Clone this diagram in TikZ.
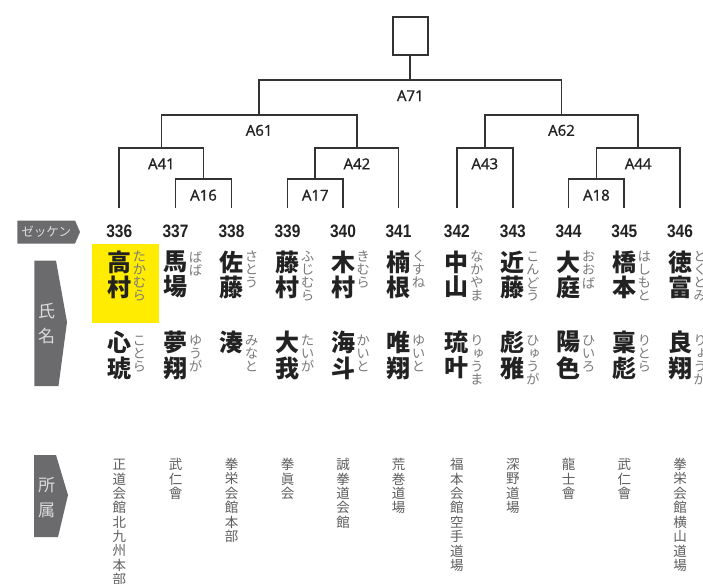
\documentclass[tikz,border=0pt]{standalone}
\usepackage{fontspec}
\newfontfamily\jpfont{Noto Sans CJK JP}
\newfontfamily\rubyfont{Noto Sans CJK JP}[RawFeature=+vert]
\newfontfamily\numfont{Liberation Sans}[FakeStretch=0.86]
\newfontfamily\labfont{Open Sans}[FakeBold=1.3]
\definecolor{tabgray}{HTML}{6B6B6E}
\definecolor{tabtext}{HTML}{DCDCDC}
\definecolor{hiyellow}{HTML}{FFEC00}
\definecolor{inkdark}{HTML}{222222}
\definecolor{rubygray}{HTML}{7A7A7A}
\definecolor{clubgray}{HTML}{5E5E5E}
\definecolor{linegray}{HTML}{333333}
\newcommand\vstk[6]{\foreach \ch [count=\k from 0] in #6 {\node[#4] (#5-\k) at (#1,{#2+\k*#3}) {\ch};}}
\begin{document}
\begin{tikzpicture}[x=1pt,y=-1pt,
  br/.style={draw=linegray,line width=1.8pt},
  jname/.style={font=\jpfont\bfseries\fontsize{24}{24}\selectfont,text=inkdark,inner sep=0},
  ruby/.style={font=\rubyfont\fontsize{13.5}{13.5}\selectfont,text=rubygray,inner sep=0},
  club/.style={font=\jpfont\fontsize{13.5}{13.5}\selectfont,text=clubgray,inner sep=0},
  num/.style={font=\numfont\bfseries\fontsize{18}{18}\selectfont,text=inkdark,inner sep=0},
  blab/.style={font=\labfont\fontsize{15}{15}\selectfont,text=inkdark,inner sep=0},
  tabshape/.style={fill=tabgray,draw=none},
  tabtxt/.style={font=\jpfont\fontsize{17}{17}\selectfont,text=tabtext,inner sep=0},
  tabsmall/.style={font=\jpfont\fontsize{12.5}{12.5}\selectfont,text=tabtext,inner sep=0}]
\useasboundingbox[fill=white] (0,0) rectangle (703,583);

% highlight
\fill[hiyellow] (91.7,244) rectangle (159.3,323.3);

% tabs
\fill[tabshape] (17.3,220.5) -- (75,220.5) -- (80,232) -- (75,243.5) -- (17.3,243.5) -- cycle;
\node[tabsmall] (tzk) at (46.3,232) {ゼッケン};
\fill[tabshape] (34.3,260.7) -- (56,260.7) -- (67,322) -- (58.5,386) -- (34.3,386) -- cycle;
\node[tabtxt] (tsh) at (46.5,311) {氏};
\node[tabtxt] (tmei) at (46.5,336) {名};
\fill[tabshape] (34,455) -- (56,455) -- (68,495) -- (58,537) -- (34,537) -- cycle;
\node[tabtxt] (tsho) at (46.5,485) {所};
\node[tabtxt] (tzoku) at (46.5,510) {属};

% columns
\foreach \x/\n/\sa/\sr/\ga/\gr/\cl in {
 119.3/336/{高,村}/{た,か,む,ら}/{心,琥}/{こ,と,ら}/{正,道,会,館,北,九,州,本,部},
 175.5/337/{馬,場}/{ば,ば}/{夢,翔}/{ゆ,う,が}/{武,仁,會},
 231.5/338/{佐,藤}/{さ,と,う}/{湊}/{み,な,と}/{拳,栄,会,館,本,部},
 287.5/339/{藤,村}/{ふ,じ,む,ら}/{大,我}/{た,い,が}/{拳,眞,会},
 343/340/{木,村}/{き,む,ら}/{海,斗}/{か,い,と}/{誠,拳,道,会,館},
 398.5/341/{楠,根}/{く,す,ね}/{唯,翔}/{ゆ,い,と}/{荒,巻,道,場},
 456.8/342/{中,山}/{な,か,や,ま}/{琉,叶}/{り,ゅ,う,ま}/{福,本,会,館,空,手,道,場},
 512.8/343/{近,藤}/{こ,ん,ど,う}/{彪,雅}/{ひ,ゅ,う,が}/{深,野,道,場},
 568.5/344/{大,庭}/{お,お,ば}/{陽,色}/{ひ,い,ろ}/{龍,士,會},
 624.3/345/{橋,本}/{は,し,も,と}/{稟,彪}/{り,と,ら}/{武,仁,會},
 680/346/{徳,富}/{と,く,と,み}/{良,翔}/{り,ょ,う,が}/{拳,栄,会,館,横,山,道,場}}{
  \coordinate (b\n) at (\x,208);
  \node[num] (n\n) at (\x,231.7) {\n};
  \vstk{\x}{262}{25}{jname}{sn\n}{\sa}
  \vstk{\x+20}{256.8}{13}{ruby}{sr\n}{\sr}
  \vstk{\x}{342}{26}{jname}{gn\n}{\ga}
  \vstk{\x+20}{340.5}{13}{ruby}{gr\n}{\gr}
  \vstk{\x}{464.5}{14.4}{club}{cl\n}{\cl}
}

% bracket junctions
\coordinate (m16) at (203.5,179.3);
\coordinate (m41) at (161.4,148);
\coordinate (m17) at (315.25,179.3);
\coordinate (m42) at (356.9,148);
\coordinate (m61) at (259.15,115);
\coordinate (m43) at (484.8,148);
\coordinate (m18) at (596.4,179.3);
\coordinate (m44) at (638.2,148);
\coordinate (m62) at (561.5,115);
\coordinate (m71) at (410.3,80);

\draw[br] (b337) |- (m16) -| (b338);
\draw[br] (b336) |- (m41) -| (m16);
\draw[br] (b339) |- (m17) -| (b340);
\draw[br] (m17) |- (m42) -| (b341);
\draw[br] (m41) |- (m61) -| (m42);
\draw[br] (b342) |- (m43) -| (b343);
\draw[br] (b344) |- (m18) -| (b345);
\draw[br] (m18) |- (m44) -| (b346);
\draw[br] (m43) |- (m62) -| (m44);
\draw[br] (m61) |- (m71) -| (m62);

\node[draw=linegray,line width=1.8pt,minimum width=35pt,minimum height=38pt,inner sep=0] (champ) at (410.3,35.7) {};
\draw[br] (champ.south) -- (m71);

% labels
\node[blab] (l71) at (410.3,95.7) {A71};
\node[blab] (l61) at (259.15,130.4) {A61};
\node[blab] (l62) at (561.5,130.4) {A62};
\node[blab] (l41) at (161.4,163.8) {A41};
\node[blab] (l42) at (356.9,163.8) {A42};
\node[blab] (l43) at (484.8,163.8) {A43};
\node[blab] (l44) at (638.2,163.8) {A44};
\node[blab] (l16) at (203.5,195.2) {A16};
\node[blab] (l17) at (315.25,195.2) {A17};
\node[blab] (l18) at (596.4,195.2) {A18};
\end{tikzpicture}
\end{document}
